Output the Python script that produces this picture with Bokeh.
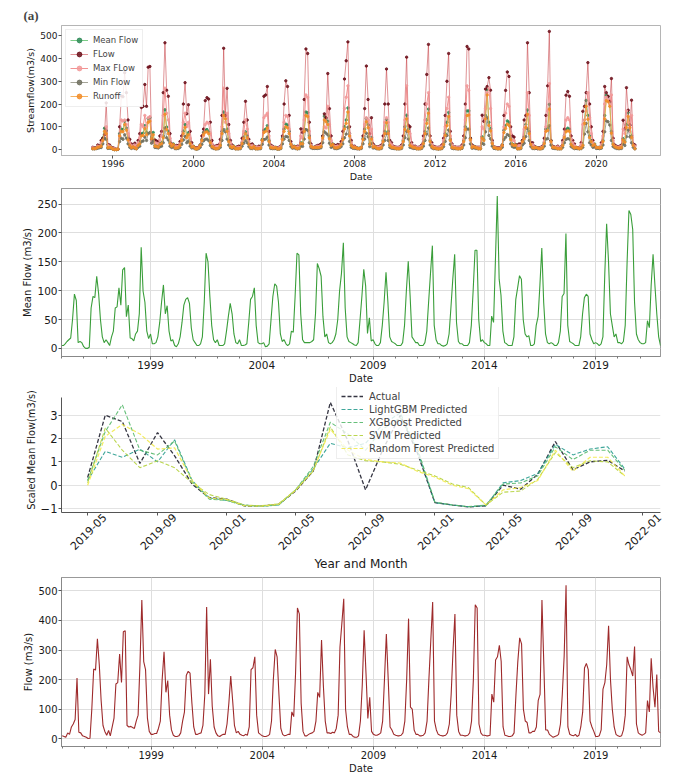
import math
import pandas as pd
from bokeh.plotting import figure
from bokeh.layouts import column
from bokeh.models import (Range1d, FixedTicker, DatetimeTickFormatter, Legend,
                          LegendItem, DatetimeAxis)
from bokeh.embed import file_html
from bokeh.resources import INLINE

# ---------------- data (monthly, Jan 1995 - Dec 2021) ----------------
flow = [
    10, 8, 5, 20, 15, 40, 50, 65, 205, 22, 20, 10,          # 1995
    8, 5, 1, 2, 100, 236, 232, 338, 250, 130, 45, 25,       # 1996
    12, 28, 10, 40, 70, 185, 190, 286, 190, 362, 365, 45,   # 1997
    40, 42, 38, 35, 60, 80, 250, 469, 261, 234, 70, 25,     # 1998
    15, 15, 18, 18, 35, 60, 200, 294, 157, 197, 80, 30,     # 1999
    12, 8, 8, 10, 20, 60, 90, 215, 228, 222, 120, 40,       # 2000
    15, 15, 18, 20, 45, 150, 445, 151, 269, 110, 40, 20,    # 2001
    10, 8, 12, 15, 15, 50, 120, 212, 130, 45, 20, 25,       # 2002
    15, 12, 10, 15, 12, 40, 234, 240, 277, 80, 20, 15,      # 2003
    10, 8, 8, 10, 15, 60, 200, 302, 277, 150, 35, 15,       # 2004
    10, 12, 15, 15, 91, 75, 220, 442, 422, 120, 25, 10,     # 2005
    10, 15, 18, 20, 25, 60, 157, 140, 334, 180, 60, 20,     # 2006
    20, 18, 22, 20, 35, 80, 310, 390, 473, 100, 40, 15,     # 2007
    15, 8, 5, 5, 10, 60, 180, 367, 220, 69, 140, 25,        # 2008
    15, 12, 12, 15, 20, 60, 200, 354, 200, 40, 30, 15,      # 2009
    12, 10, 10, 12, 20, 60, 200, 406, 107, 100, 30, 15,     # 2010
    15, 10, 10, 12, 20, 60, 200, 330, 462, 60, 30, 15,      # 2011
    12, 10, 10, 12, 20, 50, 150, 300, 422, 80, 25, 12,      # 2012
    12, 10, 10, 12, 20, 60, 200, 453, 442, 50, 20, 12,      # 2013
    12, 10, 10, 12, 151, 124, 266, 277, 316, 261, 40, 12,   # 2014
    10, 8, 8, 10, 20, 150, 260, 341, 321, 100, 60, 55,      # 2015
    20, 20, 25, 25, 40, 130, 150, 469, 250, 30, 30, 15,     # 2016
    10, 5, 8, 10, 15, 50, 150, 280, 519, 40, 15, 12,        # 2017
    10, 15, 8, 12, 40, 90, 239, 255, 234, 60, 40, 25,       # 2018
    8, 8, 10, 30, 168, 190, 250, 382, 200, 100, 40, 15,     # 2019
    10, 8, 10, 30, 80, 277, 250, 234, 212, 312, 50, 20,     # 2020
    15, 12, 15, 20, 129, 91, 272, 173, 107, 217, 25, 20,    # 2021
]

mean_flow = [
    5, 5, 8, 12, 15, 18, 50, 94, 83, 10, 12, 10,            # 1995
    3, 0, 0, 2, 70, 90, 88, 125, 95, 50, 20, 10,            # 1996
    15, 10, 5, 20, 30, 70, 72, 105, 75, 136, 140, 55,       # 1997
    75, 18, 17, 13, 25, 30, 60, 175, 99, 80, 30, 17,        # 1998
    25, 8, 8, 10, 20, 45, 80, 110, 60, 74, 30, 13,          # 1999
    15, 5, 3, 8, 20, 45, 75, 85, 88, 78, 35, 15,            # 2000
    10, 5, 5, 8, 20, 80, 165, 150, 90, 40, 15, 10,          # 2001
    15, 5, 5, 5, 8, 30, 55, 78, 60, 25, 10, 8,              # 2002
    15, 5, 5, 6, 8, 45, 85, 90, 105, 40, 10, 8,             # 2003
    8, 10, 3, 4, 8, 50, 90, 112, 108, 80, 25, 12,           # 2004
    15, 8, 5, 8, 30, 28, 90, 165, 162, 60, 15, 10,          # 2005
    10, 10, 10, 12, 15, 60, 147, 138, 125, 55, 20, 25,      # 2006
    10, 8, 10, 15, 25, 50, 100, 130, 183, 70, 20, 12,       # 2007
    10, 8, 6, 5, 10, 50, 90, 137, 108, 26, 53, 13,          # 2008
    15, 8, 5, 5, 10, 40, 80, 132, 80, 20, 12, 10,           # 2009
    8, 5, 5, 5, 10, 40, 100, 151, 90, 20, 15, 10,           # 2010
    10, 5, 5, 5, 10, 30, 80, 130, 178, 40, 15, 8,           # 2011
    8, 5, 4, 5, 8, 25, 70, 120, 163, 45, 12, 8,             # 2012
    8, 5, 5, 5, 10, 40, 100, 170, 170, 50, 12, 15,          # 2013
    10, 8, 5, 5, 56, 45, 150, 264, 120, 92, 30, 10,         # 2014
    8, 5, 5, 5, 20, 85, 105, 126, 120, 50, 25, 20,          # 2015
    22, 5, 5, 8, 40, 55, 110, 174, 79, 25, 10, 8,           # 2016
    10, 8, 5, 5, 10, 30, 90, 95, 199, 40, 12, 10,           # 2017
    8, 5, 5, 5, 20, 60, 88, 94, 90, 25, 15, 8,              # 2018
    10, 8, 5, 8, 20, 130, 216, 150, 60, 40, 20, 25,         # 2019
    10, 10, 8, 12, 40, 150, 239, 232, 206, 80, 25, 15,      # 2020
    10, 8, 8, 10, 48, 36, 110, 163, 108, 60, 20, 5,         # 2021
]

max_flow = [
    8, 6, 5, 15, 12, 30, 40, 50, 100, 18, 15, 8,
    6, 4, 1, 2, 60, 130, 125, 130, 110, 70, 30, 18,
    10, 20, 8, 30, 50, 110, 100, 150, 100, 140, 145, 35,
    30, 30, 28, 25, 40, 60, 150, 270, 160, 130, 50, 20,
    12, 12, 14, 14, 25, 45, 120, 160, 100, 120, 50, 20,
    10, 6, 6, 8, 15, 40, 60, 110, 120, 115, 70, 25,
    12, 12, 14, 15, 30, 100, 270, 120, 160, 70, 30, 15,
    8, 6, 8, 10, 10, 35, 80, 130, 90, 35, 15, 18,
    12, 10, 8, 10, 10, 30, 140, 150, 160, 60, 15, 12,
    8, 6, 6, 8, 12, 45, 120, 150, 145, 90, 25, 12,
    8, 10, 12, 12, 60, 50, 130, 240, 230, 80, 18, 8,
    8, 12, 14, 15, 18, 45, 100, 95, 190, 110, 40, 15,
    15, 14, 16, 15, 25, 55, 180, 230, 280, 70, 30, 12,
    12, 6, 4, 4, 8, 45, 110, 140, 130, 50, 90, 18,
    12, 10, 10, 12, 15, 45, 120, 140, 120, 30, 22, 12,
    10, 8, 8, 10, 15, 45, 130, 280, 80, 70, 22, 12,
    12, 8, 8, 10, 15, 45, 130, 200, 250, 45, 22, 12,
    10, 8, 8, 10, 15, 40, 100, 180, 230, 60, 20, 10,
    10, 8, 8, 10, 15, 45, 130, 280, 260, 40, 15, 10,
    10, 8, 8, 10, 100, 90, 180, 250, 270, 180, 30, 10,
    8, 6, 6, 8, 15, 100, 160, 200, 190, 70, 40, 40,
    15, 15, 18, 18, 30, 90, 100, 250, 150, 22, 22, 12,
    8, 4, 6, 8, 12, 35, 100, 170, 290, 30, 12, 10,
    8, 12, 6, 10, 30, 60, 130, 140, 130, 45, 30, 18,
    6, 6, 8, 22, 110, 130, 170, 250, 140, 70, 30, 12,
    8, 6, 8, 22, 60, 200, 230, 220, 200, 240, 40, 15,
    12, 10, 12, 15, 90, 70, 170, 120, 80, 150, 18, 15,
]

runoff = [
    4, 4, 6, 10, 12, 15, 40, 80, 70, 8, 10, 8,
    2, 0, 0, 2, 60, 80, 78, 110, 85, 42, 18, 8,
    12, 8, 4, 18, 25, 60, 62, 92, 65, 120, 125, 48,
    65, 15, 14, 11, 22, 26, 52, 155, 88, 70, 26, 15,
    22, 7, 7, 9, 18, 40, 70, 98, 52, 65, 26, 11,
    13, 4, 3, 7, 18, 40, 66, 76, 78, 70, 30, 13,
    9, 4, 4, 7, 18, 70, 150, 135, 80, 35, 13, 9,
    13, 4, 4, 4, 7, 26, 48, 70, 52, 22, 9, 7,
    13, 4, 4, 5, 7, 40, 75, 80, 95, 35, 9, 7,
    7, 9, 3, 3, 7, 44, 80, 100, 96, 70, 22, 10,
    13, 7, 4, 7, 26, 25, 80, 150, 145, 52, 13, 9,
    9, 9, 9, 10, 13, 52, 130, 122, 110, 48, 18, 22,
    9, 7, 9, 13, 22, 44, 90, 115, 165, 60, 18, 10,
    9, 7, 5, 4, 9, 44, 80, 122, 96, 22, 46, 11,
    13, 7, 4, 4, 9, 35, 70, 118, 70, 18, 10, 9,
    7, 4, 4, 4, 9, 35, 88, 135, 80, 18, 13, 9,
    9, 4, 4, 4, 9, 26, 70, 115, 160, 35, 13, 7,
    7, 4, 3, 4, 7, 22, 62, 105, 145, 40, 10, 7,
    7, 4, 4, 4, 9, 35, 88, 150, 152, 44, 10, 13,
    9, 7, 4, 4, 50, 40, 135, 240, 106, 82, 26, 9,
    7, 4, 4, 4, 18, 75, 93, 112, 106, 44, 22, 18,
    19, 4, 4, 7, 35, 48, 97, 155, 70, 22, 9, 7,
    9, 7, 4, 4, 9, 26, 80, 84, 178, 35, 10, 9,
    7, 4, 4, 4, 18, 53, 78, 83, 80, 22, 13, 7,
    9, 7, 4, 7, 18, 115, 190, 133, 53, 35, 18, 22,
    9, 9, 7, 10, 35, 135, 215, 210, 190, 72, 22, 13,
    9, 7, 7, 9, 42, 32, 97, 145, 96, 53, 18, 4,
]

min_flow = [
    3, 3, 4, 6, 8, 9, 25, 50, 45, 5, 6, 5,
    2, 0, 0, 1, 35, 50, 45, 65, 50, 25, 10, 5,
    8, 5, 3, 10, 15, 35, 38, 55, 40, 70, 75, 28,
    38, 9, 9, 7, 12, 15, 30, 95, 52, 42, 15, 9,
    13, 4, 4, 5, 10, 23, 42, 58, 30, 38, 15, 7,
    8, 3, 2, 4, 10, 23, 38, 45, 46, 40, 18, 8,
    5, 3, 3, 4, 10, 40, 88, 78, 46, 20, 8, 5,
    8, 3, 3, 3, 4, 15, 28, 40, 30, 13, 5, 4,
    8, 3, 3, 3, 4, 23, 44, 46, 55, 20, 5, 4,
    4, 5, 2, 2, 4, 25, 46, 58, 56, 40, 13, 6,
    8, 4, 3, 4, 15, 14, 46, 88, 85, 30, 8, 5,
    5, 5, 5, 6, 8, 30, 78, 72, 65, 28, 10, 13,
    5, 4, 5, 8, 13, 25, 52, 68, 98, 36, 10, 6,
    5, 4, 3, 3, 5, 25, 46, 72, 56, 13, 27, 7,
    8, 4, 3, 3, 5, 20, 40, 70, 40, 10, 6, 5,
    4, 3, 3, 3, 5, 20, 52, 80, 46, 10, 8, 5,
    5, 3, 3, 3, 5, 15, 40, 68, 95, 20, 8, 4,
    4, 3, 2, 3, 4, 13, 36, 62, 86, 23, 6, 4,
    4, 3, 3, 3, 5, 20, 52, 90, 90, 25, 6, 8,
    5, 4, 3, 3, 28, 23, 78, 140, 62, 48, 15, 5,
    4, 3, 3, 3, 10, 44, 54, 66, 62, 25, 13, 10,
    11, 3, 3, 4, 20, 28, 57, 92, 40, 13, 5, 4,
    5, 4, 3, 3, 5, 15, 46, 48, 105, 20, 6, 5,
    4, 3, 3, 3, 10, 30, 45, 48, 46, 13, 8, 4,
    5, 4, 3, 4, 10, 68, 115, 78, 30, 20, 10, 13,
    5, 5, 4, 6, 20, 78, 126, 122, 108, 40, 13, 8,
    5, 4, 4, 5, 25, 18, 57, 86, 56, 30, 10, 3,
]

# Panel (c): scaled mean flow, monthly May 2019 - Dec 2021
actual = [0.33, 3.0, 2.73, 0.93, 2.26, 1.26, 0.04, -0.53, -0.6, -0.89, -0.9, -0.82,
          -0.25, 0.61, 3.55, 1.9, -0.2, 1.5, 3.0, 1.4, -0.75, -0.85, -0.93, -0.88,
          0.0, -0.17, 0.47, 1.87, 0.66, 1.0, 1.07, 0.61]
lgbm = [0.2, 1.45, 1.2, 1.55, 1.0, 1.95, 0.2, -0.55, -0.65, -0.85, -0.9, -0.85,
        -0.2, 0.7, 1.8, 1.6, 1.8, 2.6, 3.1, 1.5, -0.75, -0.85, -0.92, -0.88,
        0.1, 0.2, 0.5, 1.75, 1.3, 1.55, 1.65, 0.7]
xgb = [0.2, 2.3, 3.45, 1.5, 1.3, 1.9, 0.15, -0.6, -0.65, -0.88, -0.9, -0.85,
       -0.2, 0.8, 2.7, 2.2, 1.5, 2.4, 2.9, 1.6, -0.72, -0.85, -0.92, -0.85,
       0.05, 0.1, 0.4, 1.65, 1.1, 1.5, 1.5, 0.65]
svm = [0.1, 2.45, 1.5, 0.75, 1.05, 0.75, 0.1, -0.4, -0.6, -0.85, -0.88, -0.8,
       -0.2, 0.6, 2.5, 1.3, 1.05, 1.0, 0.9, 0.65, 0.4, 0.05, -0.1, -0.85,
       -0.3, -0.25, 0.25, 1.4, 0.75, 1.05, 1.0, 0.4]
rf = [0.0, 2.1, 2.6, 2.2, 1.55, 1.6, 0.2, -0.55, -0.62, -0.88, -0.9, -0.82,
      -0.22, 0.65, 2.4, 1.5, 1.1, 1.0, 0.95, 0.6, 0.35, 0.0, -0.15, -0.85,
      -0.2, -0.1, 0.2, 1.5, 0.6, 1.2, 1.2, 0.4]

tick_years_a = [1996, 2000, 2004, 2008, 2012, 2016, 2020]
tick_years_b = [1999, 2004, 2009, 2014, 2019]
tick_months_c = ["2019-05", "2019-09", "2020-01", "2020-05", "2020-09",
                 "2021-01", "2021-05", "2021-09", "2022-01"]

dates = pd.date_range("1995-01-01", periods=len(flow), freq="MS")
months = pd.date_range("2019-05-01", periods=len(actual), freq="MS")

DAY_MS = 86400000.0


def ms(s):
    return pd.Timestamp(s).value / 1e6


def ts(s):
    return pd.Timestamp(s)


FONT = "DejaVu Sans"
W = 685


def year_fmt():
    return DatetimeTickFormatter(years="%Y", months="%Y", days="%Y")


def style_axis(ax, tick_size, label_size, axis_color):
    ax.major_label_text_font = FONT
    ax.major_label_text_font_size = tick_size
    ax.major_label_text_color = "#1a1a1a"
    ax.axis_label_text_font = FONT
    ax.axis_label_text_font_size = label_size
    ax.axis_label_text_font_style = "normal"
    ax.axis_label_text_color = "#1a1a1a"
    ax.major_tick_in = 0
    ax.major_tick_out = 3
    ax.minor_tick_in = 0
    ax.minor_tick_out = 0
    ax.major_tick_line_color = "#555555"
    ax.major_label_standoff = 1
    ax.axis_label_standoff = 1
    ax.axis_line_color = axis_color


def style(p, tick_size, label_size, axis_color="#888888"):
    for ax in (p.xaxis[0], p.yaxis[0]):
        style_axis(ax, tick_size, label_size, axis_color)
    p.border_fill_color = None


# ---------------- panel (a) ----------------
p1 = figure(width=W, height=184, x_axis_type="datetime",
            x_range=Range1d(ts("1993-06-12"), ts("2023-03-10")),
            y_range=Range1d(-26, 545), output_backend="svg",
            toolbar_location=None, min_border_left=43, min_border_right=5,
            min_border_top=25, min_border_bottom=0, title="(a)")
p1.title.text_font = "Liberation Serif"
p1.title.text_font_style = "bold"
p1.title.text_font_size = "13px"
p1.title.standoff = 5
p1.title.offset = -38
p1.grid.visible = False
p1.outline_line_color = "#b5b5b5"
style(p1, "9px", "9.5px", axis_color="#b5b5b5")
p1.xaxis.ticker = FixedTicker(ticks=[ms(f"{y}-01-01") for y in tick_years_a])
p1.xaxis.formatter = year_fmt()
p1.yaxis.ticker = FixedTicker(ticks=[0, 100, 200, 300, 400, 500])
p1.xaxis.axis_label = "Date"
p1.yaxis.axis_label = "Streamflow(m3/s)"

series_a = [
    ("Mean Flow", mean_flow, "#5cbf6a", "#2e8b57", 0.8),
    ("FLow", flow, "#c43a3f", "#6b0f1a", 0.55),
    ("Max FLow", max_flow, "#f08080", "#f29a9a", 0.85),
    ("Min Flow", min_flow, "#8f8f80", "#6e6e5e", 0.8),
    ("Runoff", runoff, "#f5a445", "#f28c28", 0.85),
]
items_a = []
for name, vals, lc, mc, la in series_a:
    rl = p1.line(dates, vals, line_color=lc, line_width=1, line_alpha=la)
    rs = p1.scatter(dates, vals, size=2.4, color=mc, alpha=0.85)
    items_a.append(LegendItem(label=name, renderers=[rl, rs]))
leg_a = Legend(items=items_a, location="top_left", margin=4, padding=4,
               spacing=2, glyph_height=12, glyph_width=18, label_height=12,
               label_text_font=FONT, label_text_font_size="8.5px",
               label_standoff=5, border_line_color="#dddddd",
               background_fill_alpha=0.85)
p1.add_layout(leg_a)

# ---------------- panel (b): mean flow ----------------
p2 = figure(width=W, height=202, x_axis_type="datetime",
            x_range=Range1d(ts("1995-01-01"), ts("2021-12-01")),
            y_range=Range1d(-14, 277), output_backend="svg",
            toolbar_location=None, min_border_left=47, min_border_right=5,
            min_border_top=4, min_border_bottom=0)
style(p2, "10.5px", "10px")
p2.outline_line_color = "#999999"
p2.xaxis.ticker = FixedTicker(ticks=[ms(f"{y}-01-01") for y in tick_years_b],
                              minor_ticks=[ms(f"{y}-01-01") for y in range(1995, 2022)])
p2.xaxis.minor_tick_out = 2
p2.xaxis.minor_tick_line_color = "#777777"
p2.xaxis.formatter = year_fmt()
p2.yaxis.ticker = FixedTicker(ticks=[0, 50, 100, 150, 200, 250])
p2.grid.grid_line_color = "#dedede"
p2.xaxis.axis_label = "Date"
p2.yaxis.axis_label = "Mean Flow (m3/s)"
p2.line(dates, mean_flow, line_color="#3a9e3a", line_width=1.1)

# ---------------- panel (c): model comparison ----------------
p3 = figure(width=W, height=187, x_axis_type="datetime",
            x_range=Range1d(ts("2019-03-16"), ts("2022-02-02")),
            y_range=Range1d(-1.17, 4.19), output_backend="svg",
            toolbar_location=None, min_border_left=57, min_border_right=25,
            min_border_top=1, min_border_bottom=0)
style(p3, "11.5px", "9.8px", axis_color="#555555")
p3.outline_line_color = None
p3.xgrid.visible = False
p3.ygrid.grid_line_color = "#e3e3e3"
p3.yaxis.ticker = FixedTicker(ticks=[-1, 0, 1, 2, 3])
p3.yaxis.bounds = (-1.17, 3.76)
p3.yaxis.major_label_overrides = {-1: "\u22121"}
tick_ms_c = [ms(m + "-01") for m in tick_months_c]
# axis nearest the frame: tick marks only
p3.xaxis.ticker = FixedTicker(ticks=tick_ms_c)
p3.xaxis.major_label_overrides = {t: "" for t in tick_ms_c}
p3.xaxis.major_label_text_font_size = "1px"
p3.xaxis.major_label_standoff = 0
# outer axis: the rotated month labels, centred under their ticks
lab_ticks = [t + 30 * DAY_MS for t in tick_ms_c]
ax_lab = DatetimeAxis(ticker=FixedTicker(ticks=lab_ticks),
                      major_label_overrides={t: m for t, m in zip(lab_ticks, tick_months_c)})
style_axis(ax_lab, "11px", "12px", None)
ax_lab.major_tick_out = 0
ax_lab.major_label_orientation = math.pi / 4
ax_lab.major_label_standoff = 0
ax_lab.axis_label = "Year and Month"
ax_lab.axis_label_standoff = 0
p3.add_layout(ax_lab, "below")
p3.yaxis.axis_label = "Scaled Mean Flow(m3/s)"

series_c = [
    ("Actual", actual, "#1f1f2e", 1.3),
    ("LightGBM Predicted", lgbm, "#2a9d8f", 1.1),
    ("XGBoost Predicted", xgb, "#55b86b", 1.1),
    ("SVM Predicted", svm, "#b4d13c", 1.1),
    ("Random Forest Predicted", rf, "#f2ea4c", 1.2),
]
items_c = []
for name, vals, col, lw in series_c:
    r = p3.line(months, vals, line_color=col, line_width=lw, line_dash="4 2",
                line_alpha=0.9)
    items_c.append(LegendItem(label=name, renderers=[r]))
leg_c = Legend(items=items_c, location=(275, 53), margin=0, padding=4,
               spacing=1, glyph_height=12, glyph_width=22, label_height=12,
               label_text_font=FONT, label_text_font_size="10px",
               label_standoff=6, border_line_color="#dddddd",
               background_fill_alpha=0.8)
p3.add_layout(leg_c)

# ---------------- panel (d): flow ----------------
p4 = figure(width=W, height=203, x_axis_type="datetime",
            x_range=Range1d(ts("1994-12-20"), ts("2021-12-01")),
            y_range=Range1d(-26, 545), output_backend="svg",
            toolbar_location=None, min_border_left=61, min_border_right=23,
            min_border_top=4, min_border_bottom=0)
style(p4, "10px", "10px")
p4.outline_line_color = "#999999"
p4.xaxis.ticker = FixedTicker(ticks=[ms(f"{y}-01-01") for y in tick_years_b],
                              minor_ticks=[ms(f"{y}-01-01") for y in range(1995, 2022)])
p4.xaxis.minor_tick_out = 2
p4.xaxis.minor_tick_line_color = "#777777"
p4.xaxis.formatter = year_fmt()
p4.yaxis.ticker = FixedTicker(ticks=[0, 100, 200, 300, 400, 500])
p4.grid.grid_line_color = "#dedede"
p4.xaxis.axis_label = "Date"
p4.yaxis.axis_label = "Flow (m3/s)"
p4.line(dates, flow, line_color="#9e2a2b", line_width=1.1)

layout = column(p1, p2, p3, p4, spacing=0)
open("out.html", "w").write(file_html(layout, INLINE))
